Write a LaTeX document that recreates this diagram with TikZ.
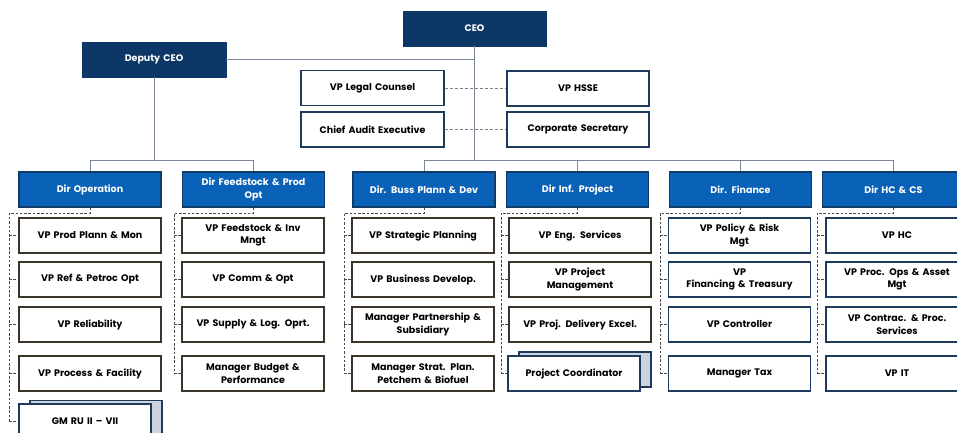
\documentclass[tikz,border=0pt]{standalone}
\usepackage{fontspec}
\setmainfont{Poppins}
\usetikzlibrary{calc}
\definecolor{navy}{HTML}{0C3766}
\definecolor{dirblue}{HTML}{0A62B8}
\definecolor{dirborder}{HTML}{123A66}
\definecolor{brownb}{HTML}{3B3428}
\definecolor{navyb}{HTML}{1E3A5C}
\definecolor{busline}{HTML}{7A8798}
\definecolor{dashc}{HTML}{4A4A4A}
\definecolor{shadowfill}{HTML}{CDD3DC}
\tikzset{
  base/.style={font=\bfseries\fontsize{9.5}{12.5}\selectfont, align=center, inner sep=1pt, minimum height=35pt, text width=138pt},
  topbox/.style={base, fill=navy, draw=navy, text=white, minimum width=143pt},
  dirbox/.style={base, fill=dirblue, draw=dirborder, line width=1.2pt, text=white, minimum width=142pt},
  cbox/.style={base, fill=white, draw=brownb, line width=1.3pt, minimum width=142pt},
  nbox/.style={base, fill=white, draw=navyb, line width=1.3pt, minimum width=142pt},
  sbox/.style={base, fill=white, draw=navyb, line width=1.3pt, minimum width=143pt, minimum height=35pt},
  shbox/.style={fill=shadowfill, draw=navyb, line width=1.3pt, minimum width=132pt, minimum height=35pt, inner sep=0pt},
  frbox/.style={base, fill=white, draw=navyb, line width=1.3pt, minimum width=132pt, text width=128pt},
  bus/.style={draw=busline, line width=0.9pt},
  dl/.style={draw=dashc, line width=0.7pt, dash pattern=on 2.5pt off 1.8pt},
  sdl/.style={draw=gray, line width=0.8pt, dash pattern=on 3pt off 2pt}
}
\begin{document}
\begin{tikzpicture}[x=1pt,y=-1pt]
\useasboundingbox (0,0) rectangle (957,432);
% top level
\node[topbox] (ceo) at (474.5,28.5) {CEO};
\node[topbox, minimum width=144pt] (dep) at (154,59.5) {Deputy CEO};
\node[sbox] (legal) at (372.5,88) {VP Legal Counsel};
\node[sbox] (audit) at (372.5,129.5) {Chief Audit Executive};
\node[sbox, minimum width=142pt] (hsse) at (578,88.5) {VP HSSE};
\node[sbox, minimum width=142pt] (sec) at (578,129.5) {Corporate Secretary};
% directors
\node[dirbox] (d1) at (90,189.5) {Dir Operation};
\node[dirbox] (d2) at (253.5,189.5) {Dir Feedstock \& Prod\\Opt};
\node[dirbox] (d3) at (424,189.5) {Dir. Buss Plann \& Dev};
\node[dirbox] (d4) at (577.5,189.5) {Dir Inf. Project};
\node[dirbox] (d5) at (740.5,189.5) {Dir. Finance};
\node[dirbox] (d6) at (893.5,189.5) {Dir HC \& CS};
% column 1
\node[cbox] (c11) at (90,235.5) {VP Prod Plann \& Mon};
\node[cbox] (c12) at (90,279.5) {VP Ref \& Petroc Opt};
\node[cbox] (c13) at (90,324.5) {VP Reliability};
\node[cbox] (c14) at (90,373.5) {VP Process \& Facility};
\node[shbox] (g1s) at (96,418) {};
\node[frbox] (g1) at (85,421.5) {GM RU II -- VII};
% column 2
\node[cbox] (c21) at (253,235.5) {VP Feedstock \& Inv\\Mngt};
\node[cbox] (c22) at (253,279.5) {VP Comm \& Opt};
\node[cbox] (c23) at (253,324.5) {VP Supply \& Log. Oprt.};
\node[cbox] (c24) at (253,373.5) {Manager Budget \&\\Performance};
% column 3
\node[cbox] (c31) at (423,235.5) {VP Strategic Planning};
\node[cbox] (c32) at (423,279.5) {VP Business Develop.};
\node[cbox] (c33) at (423,324.5) {Manager Partnership \&\\Subsidiary};
\node[cbox] (c34) at (423,373.5) {Manager Strat. Plan.\\Petchem \& Biofuel};
% column 4
\node[cbox] (c41) at (580,235.5) {VP Eng. Services};
\node[cbox] (c42) at (580,279.5) {VP Project\\Management};
\node[cbox] (c43) at (580,324.5) {VP Proj. Delivery Excel.};
\node[shbox] (c44s) at (585,369.5) {};
\node[frbox] (c44) at (574,373.5) {Project Coordinator};
% column 5
\node[nbox] (c51) at (739.5,235.5) {VP Policy \& Risk\\Mgt};
\node[nbox] (c52) at (739.5,279.5) {VP\\Financing \& Treasury};
\node[nbox] (c53) at (739.5,324.5) {VP Controller};
\node[nbox] (c54) at (739.5,373.5) {Manager Tax};
% column 6
\node[nbox] (c61) at (897,235.5) {VP HC};
\node[nbox] (c62) at (897,279.5) {VP Proc. Ops \& Asset\\Mgt};
\node[nbox] (c63) at (897,324.5) {VP Contrac. \& Proc.\\Services};
\node[nbox] (c64) at (897,373.5) {VP IT};
% solid connectors
\coordinate (bus) at (0,160);
\draw[bus] (dep.east) -- (dep.east -| ceo.south);
\draw[bus] (ceo.south) -- (ceo.south |- bus);
\draw[bus] (dep.south) -- (dep.south |- bus);
\draw[bus] (d1.north) -- (d1.north |- bus) -- (d2.north |- bus) -- (d2.north);
\draw[bus] (d3.north) -- (d3.north |- bus) -- (d6.north |- bus) -- (d6.north);
\draw[bus] (d4.north) -- (d4.north |- bus);
\draw[bus] (d5.north) -- (d5.north |- bus);
% staff dashed
\draw[sdl] (legal.east) -- (hsse.west |- legal.east);
\draw[sdl] (audit.east) -- (sec.west |- audit.east);
% dashed trees
\coordinate (v1) at (9,213);
\coordinate (v2) at (174,213);
\coordinate (v3) at (344,213);
\coordinate (v4) at (501,213);
\coordinate (v5) at (660,213);
\coordinate (v6) at (817,213);
\draw[dl] (d1.south) |- (v1) -- (v1 |- g1.west);
\foreach \c in {c11,c12,c13,c14,g1} \draw[dl] (v1 |- \c.west) -- (\c.west);
\draw[dl] (d2.south) |- (v2) -- (v2 |- c24.west);
\foreach \c in {c21,c22,c23,c24} \draw[dl] (v2 |- \c.west) -- (\c.west);
\draw[dl] (d3.south) |- (v3) -- (v3 |- c34.west);
\foreach \c in {c31,c32,c33,c34} \draw[dl] (v3 |- \c.west) -- (\c.west);
\draw[dl] (d4.south) |- (v4) -- (v4 |- c44.west);
\foreach \c in {c41,c42,c43,c44} \draw[dl] (v4 |- \c.west) -- (\c.west);
\draw[dl] (d5.south) |- (v5) -- (v5 |- c54.west);
\foreach \c in {c51,c52,c53,c54} \draw[dl] (v5 |- \c.west) -- (\c.west);
\draw[dl] (d6.south) |- (v6) -- (v6 |- c64.west);
\foreach \c in {c61,c62,c63,c64} \draw[dl] (v6 |- \c.west) -- (\c.west);
\end{tikzpicture}
\end{document}
